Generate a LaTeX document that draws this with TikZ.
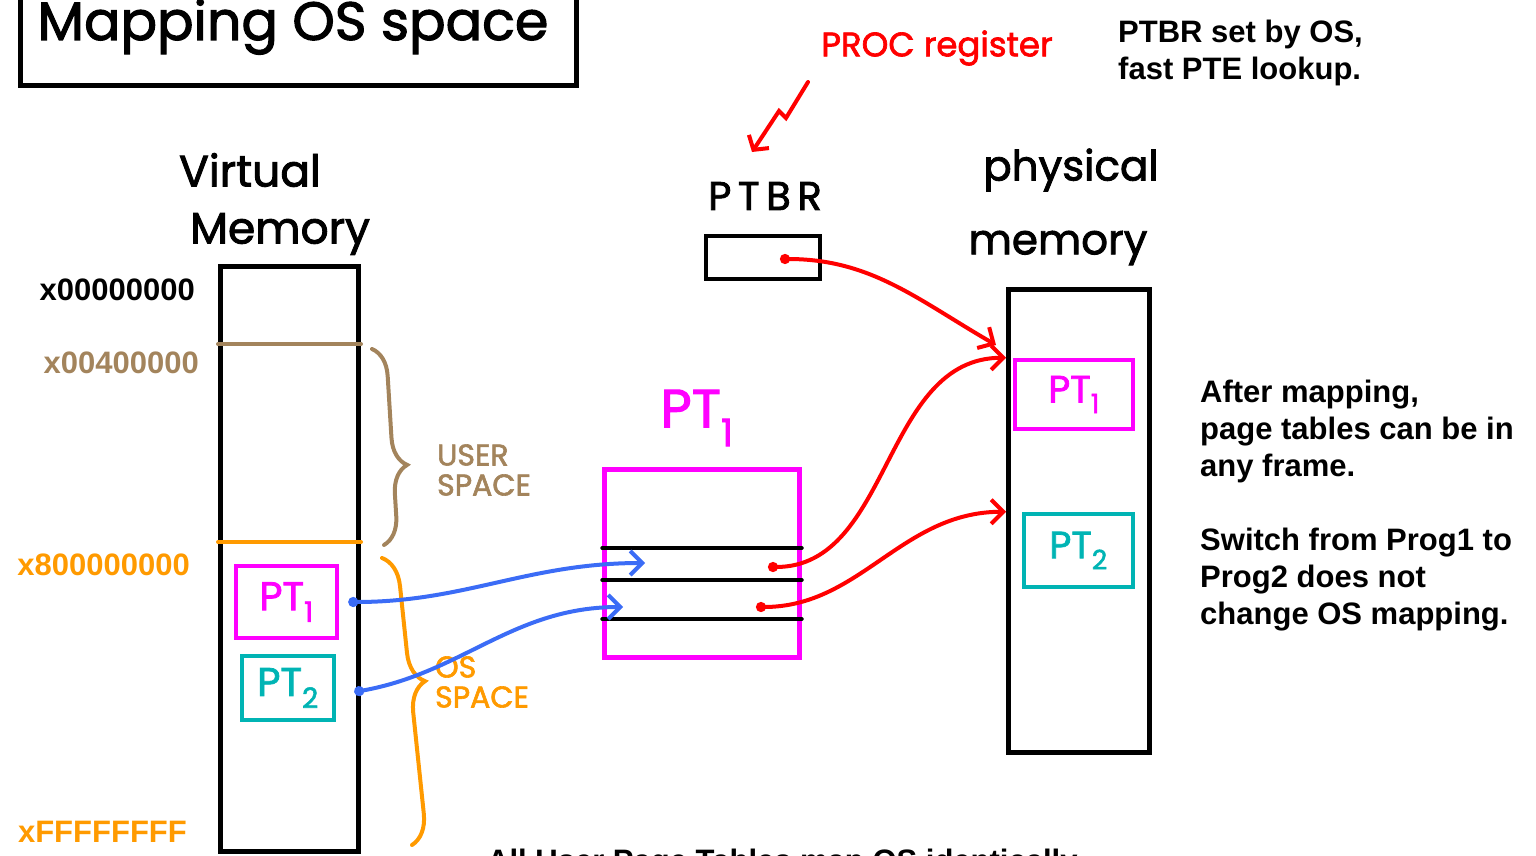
\documentclass[tikz,border=0pt]{standalone}
\usepackage{fontspec}
\setmainfont{Liberation Sans}
\newfontfamily\handfont[FakeBold=2]{Poppins}
\usetikzlibrary{arrows.meta, positioning, calc, decorations.pathreplacing}
\definecolor{vmbrown}{HTML}{A3845C}
\definecolor{vmorange}{HTML}{FF9A00}
\definecolor{ptmagenta}{HTML}{FF00FF}
\definecolor{ptteal}{HTML}{00B4B4}
\definecolor{penblue}{HTML}{3B6CF6}
\definecolor{penred}{HTML}{FF0000}

\begin{document}
\begin{tikzpicture}[
      x=1pt, y=-1pt,
      membox/.style={draw=black, line width=5pt, inner sep=0pt},
      ptbox/.style={draw, line width=4.5pt, inner sep=0pt},
      hand/.style={font=\handfont\fontsize{#1}{#1}\selectfont, inner sep=0pt},
      addr/.style={font=\bfseries\fontsize{31}{37}\selectfont, inner sep=0pt, anchor=east},
      note/.style={font=\bfseries\fontsize{31}{37}\selectfont, inner sep=0pt, align=left, anchor=north west},
      ink/.style={line width=4pt, line cap=round},
      arr/.style={ink, {Circle[length=10pt]}-{Straight Barb[length=12pt, width=24pt]}},
      curly/.style={ink, decorate, decoration={brace, amplitude=#1}}
    ]
      \useasboundingbox (0,0) rectangle (1536,856);

      % title
      \node[membox, minimum width=556pt, minimum height=130pt] (titlebox) at (298,21) {};
      \node[hand=54, anchor=base] (title) at (293,40) {Mapping OS space};

      % virtual memory
      \node[membox, minimum width=138pt, minimum height=585pt] (vmem) at (289.5,559) {};
      \node[hand=44] (vmlab1) at (250,170) {Virtual};
      \node[hand=44] (vmlab2) at (280,234) {Memory};
      \draw[ink, vmbrown] (vmem.west |- 0,344) -- (vmem.east |- 0,344);
      \draw[ink, vmorange] (vmem.west |- 0,542) -- (vmem.east |- 0,542);

      \node[addr] (a0) at (195,290) {x00000000};
      \node[addr, vmbrown] (a4) at (199,363) {x00400000};
      \node[addr, vmorange] (a8) at (190,565) {x800000000};
      \node[addr, vmorange] (af) at (187,832) {xFFFFFFFF};

      \node[ptbox, draw=ptmagenta, minimum width=101pt, minimum height=72pt] (vpt1) at (286.5,602) {};
      \node[hand=40, ptmagenta] (vpt1lab) at (vpt1) {PT\textsubscript{1}};
      \node[ptbox, draw=ptteal, minimum width=92pt, minimum height=64pt] (vpt2) at (288,688) {};
      \node[hand=40, ptteal] (vpt2lab) at (vpt2) {PT\textsubscript{2}};

      % spaces
      \draw[curly=28pt, decoration={aspect=0.6}, vmbrown] (372,349) -- (384,545);
      \node[hand=30, vmbrown, align=left] (user) at (484,470) {USER\\SPACE};
      \draw[curly=30pt, decoration={aspect=0.44}, vmorange] (382,558) -- (412,845);
      \node[hand=30, vmorange, align=left] (os) at (482,682) {OS\\SPACE};

      % page table of process 1
      \node[ptbox, draw=ptmagenta, minimum width=195pt, minimum height=188pt] (pt1) at (702,563.5) {};
      \node[hand=54, ptmagenta] (pt1lab) at (697,418) {PT\textsubscript{1}};
      \foreach \y in {548,580,619}
        \draw[ink] (pt1.west |- 0,\y) -- (pt1.east |- 0,\y);
      \coordinate (pte1in) at (645,563);
      \coordinate (pte2in) at (623,607);
      \coordinate (pte1out) at (768,567);
      \coordinate (pte2out) at (756,607);

      % PTBR
      \node[hand=40] (ptbrlab) at (765,196) {P\,T\,B\,R};
      \node[membox, line width=4pt, minimum width=114pt, minimum height=43pt] (ptbr) at (763,257.5) {};
      \coordinate (ptbrval) at (780,259);
      \node[hand=34, penred] (proc) at (937,48) {PROC register};
      \coordinate (zztop) at (808,82);
      \coordinate (zztip) at (752,152);
      \draw[ink, penred, -{Straight Barb[length=10pt, width=24pt]}] (zztop) -- ++(-22,36) -- ++(-7,-7) -- (zztip);

      % physical memory
      \node[membox, minimum width=141pt, minimum height=463pt] (pmem) at (1079,521) {};
      \node[hand=42] (pmlab1) at (1071,170) {physical};
      \node[hand=42] (pmlab2) at (1058,248) {memory};
      \node[ptbox, draw=ptmagenta, minimum width=118pt, minimum height=69pt] (ppt1) at (1074,394.5) {};
      \node[hand=38, ptmagenta] (ppt1lab) at (ppt1) {PT\textsubscript{1}};
      \node[ptbox, draw=ptteal, minimum width=109pt, minimum height=73pt] (ppt2) at (1078.5,550.5) {};
      \node[hand=38, ptteal] (ppt2lab) at (ppt2) {PT\textsubscript{2}};

      % mappings
      \draw[arr, penblue] ([xshift=9pt]vpt1.east) to[out=0, in=180] (pte1in);
      \draw[arr, penblue] ([xshift=18pt, yshift=-4pt]vpt2.east) to[out=10, in=180] (pte2in);
      \draw[arr, penred] (pte1out) to[out=0, in=180] (pmem.west |- ppt1.north);
      \draw[arr, penred] (pte2out) to[out=0, in=180] (pmem.west |- ppt2.north);
      \draw[arr, penred] (ptbrval) to[out=0, in=150] ([xshift=-10pt]pmem.west |- 0,345);

      % notes
      \node[note] (n1) at (1118,20) {PTBR set by OS,\\fast PTE lookup.};
      \node[note] (n2) at (1200,380) {After mapping,\\page tables can be in\\any frame.\\[37pt]Switch from Prog1 to\\Prog2 does not\\change OS mapping.};
      \node[note, anchor=base west] (foot) at (487,871) {All User Page Tables map OS identically};
    \end{tikzpicture}
\end{document}
